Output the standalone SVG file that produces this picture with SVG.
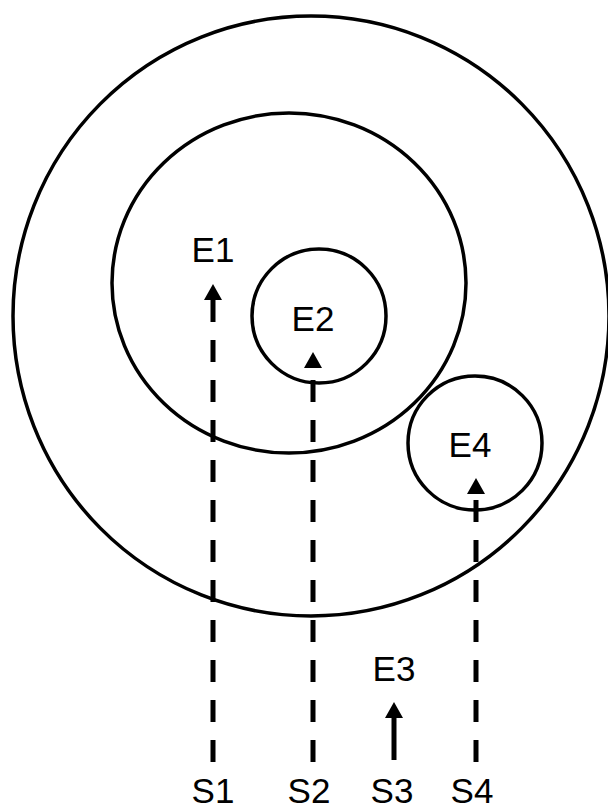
<svg xmlns="http://www.w3.org/2000/svg" width="608" height="809" viewBox="0 0 608 809">
<style>
.ring{fill:none;stroke:#000;stroke-width:3.5}
.lbl{font-family:"Liberation Sans",Arial,sans-serif;font-size:35px;fill:#000;text-anchor:middle}
.dash{stroke:#000;stroke-width:5;stroke-dasharray:22 18;fill:none}
.solid{stroke:#000;stroke-width:5;fill:none}
</style>
<defs>
<marker id="ah" markerUnits="userSpaceOnUse" markerWidth="18" markerHeight="18" viewBox="0 0 16 18" refX="0" refY="9" orient="auto">
<path d="M0,0 L16,9 L0,18 z" fill="#000"/>
</marker>
</defs>
<rect width="608" height="809" fill="#fff"/>
<g id="outer"><ellipse class="ring" cx="311" cy="316" rx="298" ry="300"/></g>
<g id="inner"><ellipse class="ring" cx="289" cy="283" rx="177" ry="170"/></g>
<g id="E1"><text class="lbl" x="213" y="262">E1</text></g>
<g id="E2"><circle class="ring" cx="319" cy="316" r="67"/><text class="lbl" x="313" y="331">E2</text></g>
<g id="E4"><circle class="ring" cx="475" cy="443" r="67"/><text class="lbl" x="470" y="457">E4</text></g>
<g id="E3"><text class="lbl" x="394" y="681">E3</text></g>
<g id="S1"><text class="lbl" x="213" y="803">S1</text></g>
<g id="S2"><text class="lbl" x="309" y="803">S2</text></g>
<g id="S3"><text class="lbl" x="392" y="803">S3</text></g>
<g id="S4"><text class="lbl" x="472" y="803">S4</text></g>
<g id="connectors">
<path class="dash" d="M213 762 V300" marker-end="url(#ah)"/>
<path class="dash" d="M313 762 V368" marker-end="url(#ah)"/>
<path class="dash" d="M476 762 V494" marker-end="url(#ah)"/>
<path class="solid" d="M394 760 V718" marker-end="url(#ah)"/>
</g>
</svg>
